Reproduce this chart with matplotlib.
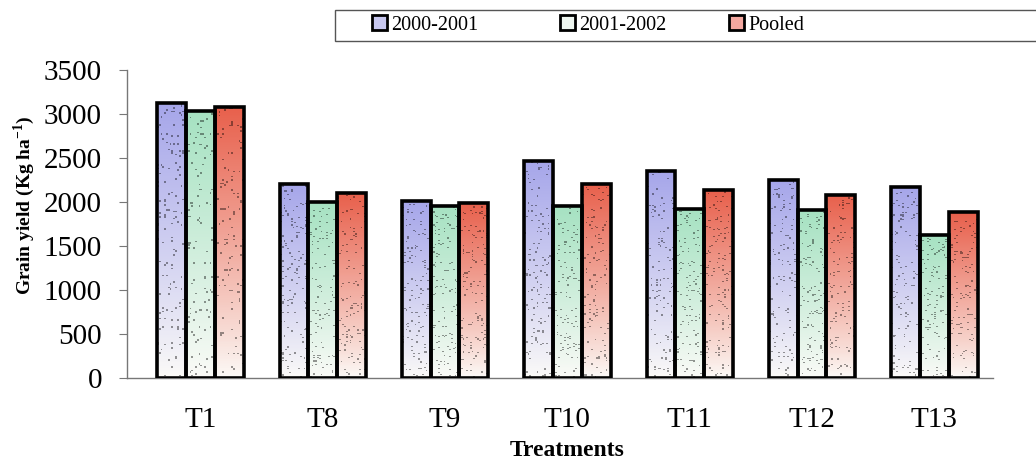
import numpy as np
import matplotlib
matplotlib.use("Agg")
import matplotlib.pyplot as plt
from matplotlib.patches import Patch, Rectangle
from matplotlib.colors import to_rgb

# data
treatments = ["T1", "T8", "T9", "T10", "T11", "T12", "T13"]
yield_2000_01 = [3130, 2210, 2010, 2470, 2355, 2255, 2165]
yield_2001_02 = [3035, 1995, 1960, 1950, 1925, 1905, 1625]
yield_pooled = [3085, 2100, 1990, 2210, 2140, 2085, 1885]
series_names = ["2000-2001", "2001-2002", "Pooled"]

top_colors = ["#a6a6ea", "#a6e2c2", "#e8604c"]
legend_colors = ["#c8c8f0", "#eef6f0", "#f4a8a0"]
bottom_color = "#fcfbf8"

plt.rcParams['font.family'] = ['Liberation Serif', 'DejaVu Serif']

fig = plt.figure(figsize=(10.36, 4.63), dpi=100)
ax = fig.add_axes([0.1226, 0.1836, 0.836, 0.6652])

x = np.arange(len(treatments))
width = 0.235
rng = np.random.default_rng(3)  # only used for the stipple texture


def gradient_img(top, n=160):
    t = np.linspace(0, 1, n)[:, None]  # 0 bottom -> 1 top
    t = t ** 0.9
    c_top = np.array(to_rgb(top))
    c_bot = np.array(to_rgb(bottom_color))
    img = c_bot + (c_top - c_bot) * t[..., None]
    img = np.repeat(img, 16, axis=1)
    # speckle like the scanned print
    dots = rng.random(img.shape[:2]) < 0.05
    img[dots] = img[dots] * 0.6
    return np.clip(img, 0, 1)


for i, (vals, col) in enumerate(zip([yield_2000_01, yield_2001_02, yield_pooled], top_colors)):
    bars = ax.bar(x + (i - 1) * width, vals, width, facecolor="none",
                  edgecolor="black", linewidth=2.6, zorder=3)
    for b in bars:
        x0, w, h = b.get_x(), b.get_width(), b.get_height()
        ax.imshow(gradient_img(col), extent=[x0, x0 + w, 0, h], origin="lower",
                  aspect="auto", zorder=2, interpolation="nearest")

ax.set_xlim(-0.6, 6.48)
ax.set_ylim(0, 3500)
ax.set_yticks(np.arange(0, 3501, 500))
ax.set_xticks(x)
ax.set_xticklabels(treatments, fontsize=21)
ax.tick_params(axis="x", length=0, pad=21)
ax.tick_params(axis="y", labelsize=21, length=6, color="#777777", pad=12)
for s in ["top", "right"]:
    ax.spines[s].set_visible(False)
for s in ["left", "bottom"]:
    ax.spines[s].set_color("#777777")
    ax.spines[s].set_linewidth(1.0)

ax.set_ylabel("Grain yield (Kg ha$^{\\mathregular{-1}}$)", fontsize=14,
              fontweight="bold")
ax.yaxis.set_label_coords(-0.104, 0.56)
fig.text(0.547, 0.026, "Treatments", fontsize=17, fontweight="bold",
         ha="center", va="center")

# legend box running off the right edge
fig.patches.append(Rectangle((335 / 1036, 1 - 41 / 463), 0.7, 31 / 463,
                             transform=fig.transFigure, facecolor="white",
                             edgecolor="#555555", linewidth=1.0))
legend_x = [372, 560, 729]
for name, c, lx in zip(series_names, legend_colors, legend_x):
    fig.legend([Patch(facecolor=c, edgecolor="black", linewidth=2.0)], [name],
               loc="center left", frameon=False,
               bbox_to_anchor=(lx / 1036, 1 - 25 / 463), fontsize=14.5,
               handlelength=0.75, handleheight=0.75, handletextpad=0.2,
               borderpad=0, borderaxespad=0)

fig.savefig("out.png", dpi=100, facecolor="white")
